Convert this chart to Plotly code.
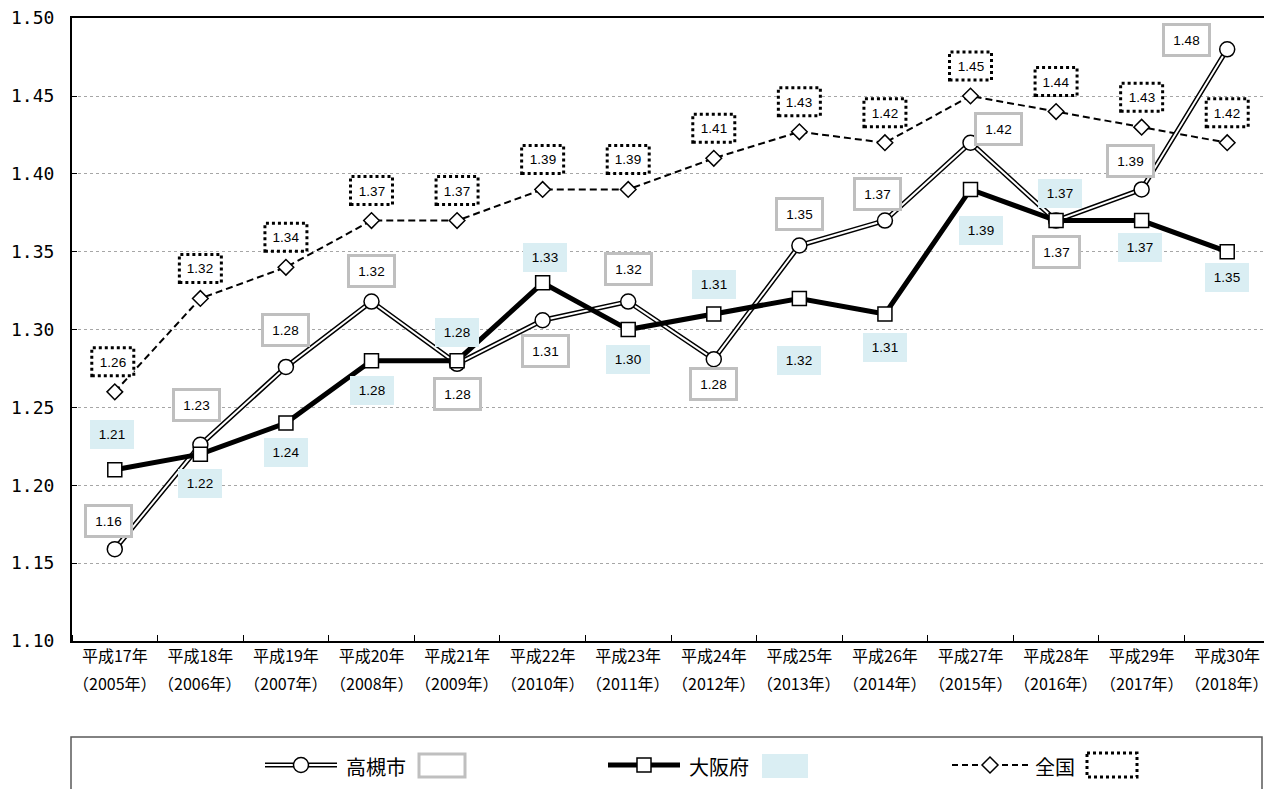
import plotly.graph_objects as go

# ---------------- data ----------------
era_labels = [
    "平成17年", "平成18年", "平成19年", "平成20年", "平成21年", "平成22年", "平成23年",
    "平成24年", "平成25年", "平成26年", "平成27年", "平成28年", "平成29年", "平成30年",
]
year_labels = [
    "（2005年）", "（2006年）", "（2007年）", "（2008年）", "（2009年）", "（2010年）", "（2011年）",
    "（2012年）", "（2013年）", "（2014年）", "（2015年）", "（2016年）", "（2017年）", "（2018年）",
]
takatsuki = [1.159, 1.226, 1.276, 1.318, 1.278, 1.306, 1.318, 1.281, 1.354, 1.370, 1.420, 1.370, 1.390, 1.480]
osaka = [1.21, 1.22, 1.24, 1.28, 1.28, 1.33, 1.30, 1.31, 1.32, 1.31, 1.39, 1.37, 1.37, 1.35]
zenkoku = [1.26, 1.32, 1.34, 1.37, 1.37, 1.39, 1.39, 1.41, 1.427, 1.42, 1.45, 1.44, 1.43, 1.42]
series_names = ["高槻市", "大阪府", "全国"]
y_tick_values = [1.10, 1.15, 1.20, 1.25, 1.30, 1.35, 1.40, 1.45, 1.50]
y_tick_labels = ["1.10", "1.15", "1.20", "1.25", "1.30", "1.35", "1.40", "1.45", "1.50"]

# label offsets in pixels (dx right, dy down) -- layout only
takatsuki_label_offsets = [(-6, -28), (-4, -40), (0, -37), (0, -31), (0, 30), (3, 31), (0, -33),
                           (0, 25), (0, -31), (-7, -27), (28, -14), (0, 31), (-11, -28), (-41, -9)]
osaka_label_offsets = [(-3, -35), (0, 29), (0, 29), (0, 30), (0, -28), (2, -25), (0, 30),
                       (0, -30), (0, 62), (0, 33), (10, 41), (4, -27), (-2, 27), (0, 26)]
zenkoku_label_offsets = [(-2, -30)] + [(0, -30)] * 13

xs = list(range(len(era_labels)))

# ---------------- layout geometry (page has an 8px body margin) ----------------
OFF = 8
W, H = 1264, 781
PLOT_L, PLOT_R, PLOT_T, PLOT_B = 72, 1270, 18, 641   # on-screen pixels
ML, MT = PLOT_L - OFF, PLOT_T - OFF
MR = W - (PLOT_R - OFF)
MB = H - (PLOT_B - OFF)
PW, PH = PLOT_R - PLOT_L, PLOT_B - PLOT_T


def px_x(p):
    return (p - PLOT_L) / PW


def px_y(p):
    return (PLOT_B - p) / PH


fig = go.Figure()

# 全国
fig.add_trace(go.Scatter(
    x=xs, y=zenkoku, mode="lines+markers", name=series_names[2],
    line=dict(color="black", width=2, dash="7px,4px"),
    marker=dict(symbol="diamond", size=12, color="white", line=dict(color="black", width=1.5)),
    showlegend=False, hoverinfo="skip"))
# 高槻市 (double line)
fig.add_trace(go.Scatter(
    x=xs, y=takatsuki, mode="lines", name=series_names[0],
    line=dict(color="black", width=5), showlegend=False, hoverinfo="skip"))
fig.add_trace(go.Scatter(
    x=xs, y=takatsuki, mode="lines+markers", name=series_names[0],
    line=dict(color="white", width=2),
    marker=dict(symbol="circle", size=15, color="white", line=dict(color="black", width=1.5)),
    showlegend=False, hoverinfo="skip"))
# 大阪府
fig.add_trace(go.Scatter(
    x=xs, y=osaka, mode="lines+markers", name=series_names[1],
    line=dict(color="black", width=5),
    marker=dict(symbol="square", size=14, color="white", line=dict(color="black", width=1.5)),
    showlegend=False, hoverinfo="skip"))

annotations = []
shapes = []
label_font = dict(family="Arial", size=13.5, color="black")

for i, v in enumerate(takatsuki):
    dx, dy = takatsuki_label_offsets[i]
    annotations.append(dict(
        x=xs[i], y=v, xref="x", yref="y", text=f"{v:.2f}", showarrow=False,
        xshift=dx, yshift=-dy, font=label_font, bgcolor="white",
        bordercolor="#BFBFBF", borderwidth=3, borderpad=2, width=39, height=24))

for i, v in enumerate(osaka):
    dx, dy = osaka_label_offsets[i]
    annotations.append(dict(
        x=xs[i], y=v, xref="x", yref="y", text=f"{v:.2f}", showarrow=False,
        xshift=dx, yshift=-dy, font=label_font, bgcolor="#DAEEF3",
        borderwidth=0, borderpad=0, width=44, height=29))

for i, v in enumerate(zenkoku):
    dx, dy = zenkoku_label_offsets[i]
    shapes.append(dict(
        type="rect", xref="x", yref="y", xsizemode="pixel", ysizemode="pixel",
        xanchor=xs[i], yanchor=v, x0=dx - 21, x1=dx + 21, y0=-dy - 14, y1=-dy + 14,
        fillcolor="white", line=dict(color="black", width=3, dash="dot"), layer="above"))
    annotations.append(dict(
        x=xs[i], y=v, xref="x", yref="y", text=f"{v:.2f}", showarrow=False,
        xshift=dx, yshift=-dy, font=label_font, width=40, height=26))

# second line of category labels
cat_font = dict(family="Noto Sans CJK JP", size=16, color="black")
for i, t in enumerate(year_labels):
    annotations.append(dict(x=xs[i], y=px_y(683), xref="x", yref="paper", text=t,
                            showarrow=False, yanchor="middle", font=cat_font))

# ---------------- custom legend ----------------
ly = 765
shapes.append(dict(type="rect", xref="paper", yref="paper",
                   x0=px_x(71), x1=px_x(1262), y0=px_y(737), y1=px_y(830),
                   line=dict(color="#595959", width=1.5), fillcolor="rgba(0,0,0,0)"))
# 高槻市
shapes.append(dict(type="line", xref="paper", yref="paper", x0=px_x(265), x1=px_x(337),
                   y0=px_y(ly), y1=px_y(ly), line=dict(color="black", width=5)))
shapes.append(dict(type="line", xref="paper", yref="paper", x0=px_x(265), x1=px_x(337),
                   y0=px_y(ly), y1=px_y(ly), line=dict(color="white", width=2)))
shapes.append(dict(type="circle", xref="paper", yref="paper", xsizemode="pixel", ysizemode="pixel",
                   xanchor=px_x(301), yanchor=px_y(ly), x0=-7.5, x1=7.5, y0=-7.5, y1=7.5,
                   fillcolor="white", line=dict(color="black", width=1.5)))
shapes.append(dict(type="rect", xref="paper", yref="paper", x0=px_x(419), x1=px_x(465),
                   y0=px_y(754), y1=px_y(777), fillcolor="white",
                   line=dict(color="#BFBFBF", width=3)))
# 大阪府
shapes.append(dict(type="line", xref="paper", yref="paper", x0=px_x(608), x1=px_x(680),
                   y0=px_y(ly), y1=px_y(ly), line=dict(color="black", width=5)))
shapes.append(dict(type="rect", xref="paper", yref="paper", xsizemode="pixel", ysizemode="pixel",
                   xanchor=px_x(644), yanchor=px_y(ly), x0=-7, x1=7, y0=-7, y1=7,
                   fillcolor="white", line=dict(color="black", width=1.5)))
shapes.append(dict(type="rect", xref="paper", yref="paper", x0=px_x(762), x1=px_x(808),
                   y0=px_y(754), y1=px_y(778), fillcolor="#DAEEF3", line=dict(width=0)))
# 全国
shapes.append(dict(type="line", xref="paper", yref="paper", x0=px_x(952), x1=px_x(1028),
                   y0=px_y(ly), y1=px_y(ly), line=dict(color="black", width=2, dash="6px,4px")))
shapes.append(dict(type="path", xref="paper", yref="paper", xsizemode="pixel", ysizemode="pixel",
                   xanchor=px_x(990), yanchor=px_y(ly), path="M 0,-8 L 8,0 L 0,8 L -8,0 Z",
                   fillcolor="white", line=dict(color="black", width=1.5)))
shapes.append(dict(type="rect", xref="paper", yref="paper", x0=px_x(1087), x1=px_x(1137),
                   y0=px_y(753), y1=px_y(777), fillcolor="white",
                   line=dict(color="black", width=3, dash="dot")))

legend_font = dict(family="Noto Sans CJK JP", size=20, color="black")
for name, xp in zip(series_names, [344, 687, 1033]):
    annotations.append(dict(x=px_x(xp), y=px_y(ly + 1), xref="paper", yref="paper", text=name,
                            showarrow=False, xanchor="left", yanchor="middle", font=legend_font))

fig.update_layout(
    width=W, height=H,
    margin=dict(l=ML, r=MR, t=MT, b=MB, autoexpand=False),
    paper_bgcolor="white", plot_bgcolor="white",
    showlegend=False,
    shapes=shapes, annotations=annotations,
    xaxis=dict(
        range=[-0.5, len(xs) - 0.5], tickmode="array", tickvals=xs, ticktext=era_labels,
        ticks="", tickangle=0, showgrid=False, zeroline=False, automargin=False,
        showline=True, mirror=True, linecolor="black", linewidth=2,
        tickfont=cat_font, ticklabeloverflow="allow",
        minor=dict(tick0=0.5, dtick=1, ticks="inside", ticklen=6, tickcolor="black", tickwidth=1, showgrid=False),
    ),
    yaxis=dict(
        range=[1.10, 1.5001], tickmode="array", tickvals=y_tick_values, ticktext=y_tick_labels,
        ticks="inside", ticklen=5, tickcolor="black", ticklabelstandoff=12, automargin=False,
        ticklabeloverflow="allow",
        showgrid=True, gridcolor="#A6A6A6", griddash="dot", gridwidth=1, zeroline=False,
        showline=True, mirror=True, linecolor="black", linewidth=2,
        tickfont=dict(family="DejaVu Sans Mono", size=18, color="black"),
    ),
)

fig.write_html("out.html")
